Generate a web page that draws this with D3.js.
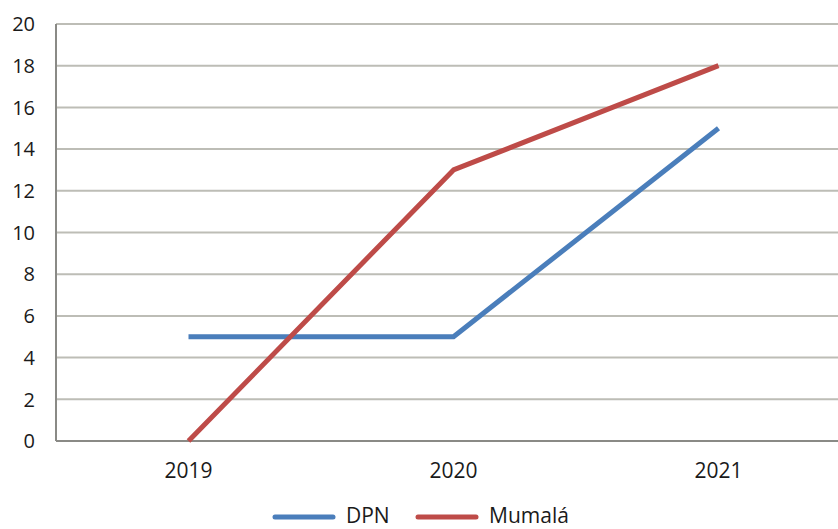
<!DOCTYPE html>
<html><head><meta charset="utf-8">
<script src="https://cdn.jsdelivr.net/npm/d3@7"></script>
<style>body{margin:0;background:#fff;}svg{display:block;font-family:"Open Sans",sans-serif;}</style>
</head><body>
<svg id="c" width="838" height="529"></svg>
<script>
const categories = ["2019", "2020", "2021"];
const dpn = [5, 5, 15];
const mumala = [0, 13, 18];
const seriesNames = ["DPN", "Mumalá"];
const yTicks = [0, 2, 4, 6, 8, 10, 12, 14, 16, 18, 20];

(function () {
const svg = d3.select("#c");
const mLeft = 56, mRight = 851, mTop = 24, mBottom = 441;
const x = d3.scaleBand().domain(categories).range([mLeft, mRight]);
const y = d3.scaleLinear().domain([0, 20]).range([mBottom, mTop]);

// gridlines
svg.append("g").selectAll("line").data(yTicks.filter(d => d > 0)).join("line")
  .attr("x1", mLeft).attr("x2", mRight)
  .attr("y1", d => y(d)).attr("y2", d => y(d))
  .attr("stroke", "#bdbdb6").attr("stroke-width", 2);

// y axis labels
svg.append("g").selectAll("text").data(yTicks).join("text")
  .attr("x", 35).attr("y", d => y(d)).attr("dy", "0.36em")
  .attr("text-anchor", "end").attr("font-size", 20).attr("fill", "#1a1a1a")
  .text(d => d);

// axes lines
svg.append("line").attr("x1", mLeft).attr("x2", mLeft).attr("y1", mTop).attr("y2", mBottom)
  .attr("stroke", "#8a8a86").attr("stroke-width", 2);
svg.append("line").attr("x1", mLeft).attr("x2", mRight).attr("y1", mBottom).attr("y2", mBottom)
  .attr("stroke", "#8a8a86").attr("stroke-width", 2);

// x labels
svg.append("g").selectAll("text").data(categories).join("text")
  .attr("x", d => x(d) + x.bandwidth() / 2).attr("y", 478)
  .attr("text-anchor", "middle").attr("font-size", 21).attr("fill", "#1a1a1a")
  .text(d => d);

const colors = ["#4a7ebb", "#be4b48"];
const line = d3.line().x((d, i) => x(categories[i]) + x.bandwidth() / 2).y(d => y(d));
[dpn, mumala].forEach((s, k) => {
  svg.append("path").attr("d", line(s)).attr("fill", "none")
    .attr("stroke", colors[k]).attr("stroke-width", 5).attr("stroke-linejoin", "round");
});

// legend
const legendX = [273, 416];
seriesNames.forEach((n, k) => {
  svg.append("line").attr("x1", legendX[k] + 2).attr("x2", legendX[k] + 60)
    .attr("y1", 517).attr("y2", 517).attr("stroke", colors[k]).attr("stroke-width", 5)
    .attr("stroke-linecap", "round");
  svg.append("text").attr("x", legendX[k] + 73).attr("y", 523)
    .attr("font-size", 21).attr("fill", "#1a1a1a").text(n);
});
})();
</script>
</body></html>
